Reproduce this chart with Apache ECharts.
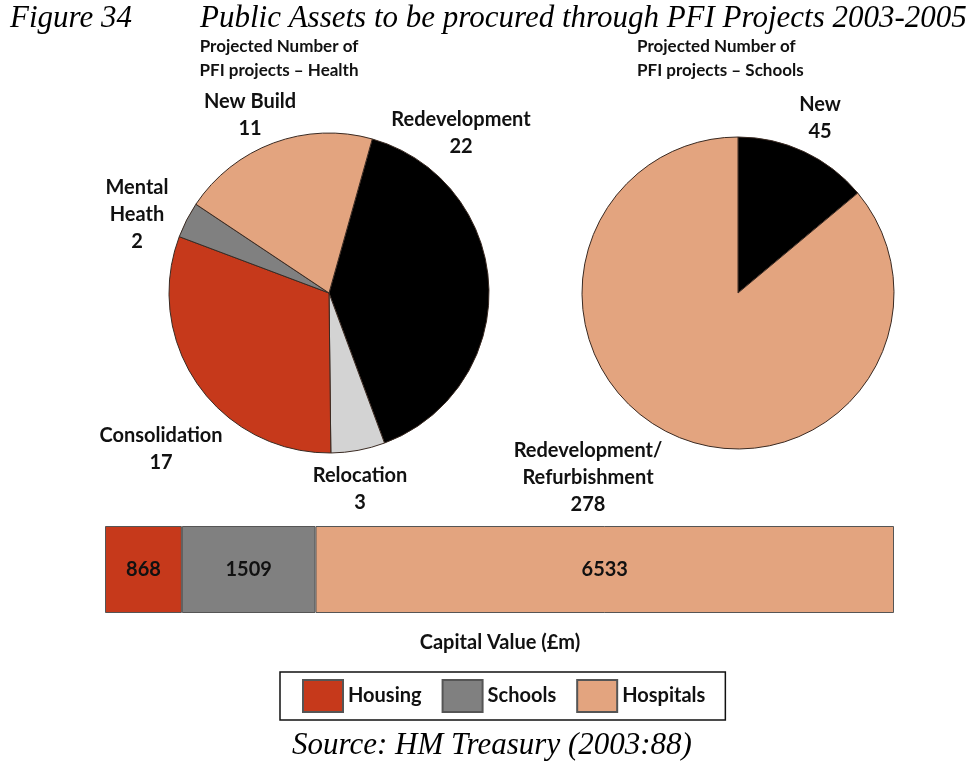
<!DOCTYPE html>
<html>
<head>
<meta charset="utf-8">
<script src="https://cdn.jsdelivr.net/npm/echarts@6/dist/echarts.min.js"></script>
<style>
  html, body { margin: 0; padding: 0; background: #fff; }
  #chart { width: 977px; height: 764px; }
</style>
</head>
<body>
<div id="chart"></div>
<script>
// Projected number of PFI projects – Health (clockwise from Redevelopment)
const healthNames = ['Redevelopment', 'Relocation', 'Consolidation', 'Mental\nHeath', 'New Build'];
const healthValues = [22, 3, 17, 2, 11];

// Projected number of PFI projects – Schools
const schoolNames = ['New', 'Redevelopment/\nRefurbishment'];
const schoolValues = [45, 278];

// Capital value (£m) by sector
const sectorNames = ['Housing', 'Schools', 'Hospitals'];
const capitalValues = [868, 1509, 6533];

const C = {
  black: '#000000',
  lightGrey: '#d3d3d3',
  red: '#c6391b',
  grey: '#808080',
  salmon: '#e3a47f',
  edge: '#3a2a22'
};
const healthColors = [C.black, C.lightGrey, C.red, C.grey, C.salmon];
const schoolColors = [C.black, C.salmon];
const sectorColors = [C.red, C.grey, C.salmon];

const LABEL_FONT = 'Lato, "Open Sans", sans-serif';
const SERIF = '"Liberation Serif", "DejaVu Serif", serif';

// label anchor points (block centres) for each slice
const healthLabelPos = [[461, 133], [360, 489], [161, 449], [137, 215], [250, 115]];
const schoolLabelPos = [[820, 118], [588, 478]];

const labelStyle = {
  show: true,
  formatter: '{b}\n{c}',
  fontFamily: LABEL_FONT,
  fontWeight: 700,
  fontSize: 20,
  lineHeight: 27,
  color: '#111',
  align: 'center',
  overflow: 'none'
};

const chart = echarts.init(document.getElementById('chart'), null, { renderer: 'canvas' });

const total = capitalValues.reduce((a, b) => a + b, 0);

chart.setOption({
  backgroundColor: '#ffffff',
  animation: false,
  grid: { left: 105, right: 83, top: 526, height: 87 },
  xAxis: { type: 'value', min: 0, max: total, show: false },
  yAxis: { type: 'category', data: ['Capital'], show: false },
  legend: {
    data: sectorNames,
    left: 280,
    top: 672,
    icon: 'rect',
    itemWidth: 40,
    itemHeight: 32,
    itemGap: 20,
    padding: [7, 20, 7, 22],
    borderColor: '#111',
    borderWidth: 1.5,
    selectedMode: false,
    textStyle: { fontFamily: LABEL_FONT, fontWeight: 700, fontSize: 20, color: '#111' }
  },
  series: [
    {
      type: 'pie',
      center: [329, 293],
      radius: 160,
      startAngle: 74.3,
      clockwise: true,
      data: healthNames.map((n, i) => ({ name: n, value: healthValues[i], itemStyle: { color: healthColors[i] } })),
      itemStyle: { borderColor: C.edge, borderWidth: 1 },
      label: labelStyle,
      labelLine: { show: false },
      labelLayout: p => ({ x: healthLabelPos[p.dataIndex][0], y: healthLabelPos[p.dataIndex][1], align: 'center', verticalAlign: 'middle' }),
      emphasis: { disabled: true }
    },
    {
      type: 'pie',
      center: [738, 293],
      radius: 156,
      startAngle: 90,
      clockwise: true,
      data: schoolNames.map((n, i) => ({ name: n, value: schoolValues[i], itemStyle: { color: schoolColors[i] } })),
      itemStyle: { borderColor: C.edge, borderWidth: 1 },
      label: labelStyle,
      labelLine: { show: false },
      labelLayout: p => ({ x: schoolLabelPos[p.dataIndex][0], y: schoolLabelPos[p.dataIndex][1], align: 'center', verticalAlign: 'middle' }),
      emphasis: { disabled: true }
    },
    ...sectorNames.map((n, i) => ({
      type: 'bar',
      name: n,
      stack: 'capital',
      barWidth: '100%',
      data: [capitalValues[i]],
      itemStyle: { color: sectorColors[i], borderColor: '#555', borderWidth: 1 },
      label: {
        show: true,
        position: 'inside',
        fontFamily: LABEL_FONT,
        fontWeight: 700,
        fontSize: 20,
        color: '#111'
      },
      emphasis: { disabled: true }
    }))
  ],
  graphic: [
    { type: 'text', x: 10, y: 3, style: { text: 'Figure 34', font: 'italic 31px ' + SERIF, fill: '#000' } },
    { type: 'text', x: 200, y: 3, style: { text: 'Public Assets to be procured through PFI Projects 2003-2005', font: 'italic 31px ' + SERIF, fill: '#000' } },
    { type: 'text', x: 279, y: 59, style: { text: 'Projected Number of\nPFI projects – Health', font: '700 17px ' + LABEL_FONT, lineHeight: 24, align: 'center', verticalAlign: 'middle', fill: '#111' } },
    { type: 'text', x: 637, y: 59, style: { text: 'Projected Number of\nPFI projects – Schools', font: '700 17px ' + LABEL_FONT, lineHeight: 24, align: 'left', verticalAlign: 'middle', fill: '#111' } },
    { type: 'text', x: 500, y: 643, style: { text: 'Capital Value (£m)', font: '700 20px ' + LABEL_FONT, align: 'center', verticalAlign: 'middle', fill: '#111' } },
    { type: 'text', x: 492, y: 746, style: { text: 'Source: HM Treasury (2003:88)', font: 'italic 31px ' + SERIF, align: 'center', verticalAlign: 'middle', fill: '#000' } }
  ]
});
</script>
</body>
</html>
